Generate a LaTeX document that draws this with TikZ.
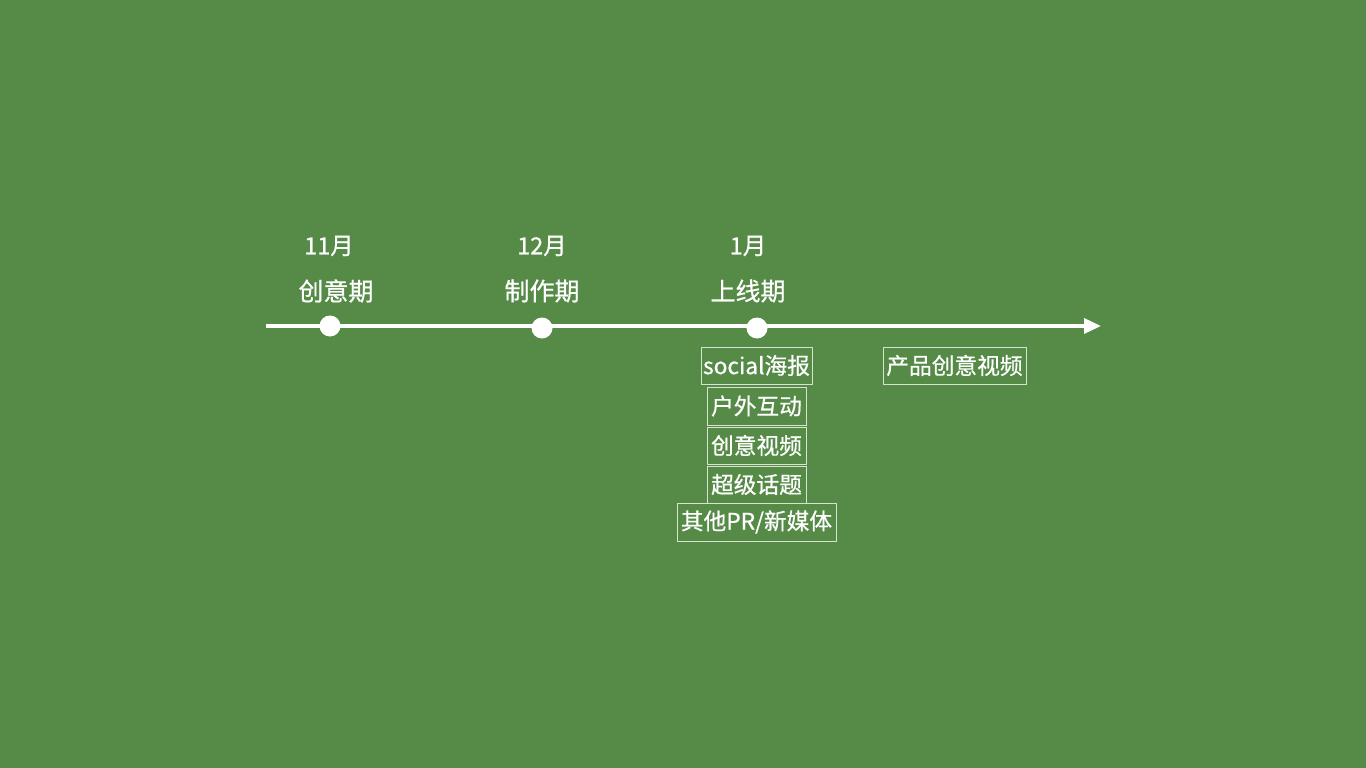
\documentclass[tikz,border=0pt]{standalone}
\usepackage{fontspec}
\setmainfont{Noto Sans CJK SC}
\newfontfamily\medfont{Noto Sans CJK SC}[FakeBold=0.6]
\usetikzlibrary{arrows.meta}
\definecolor{bg}{RGB}{85,139,70}
\definecolor{boxline}{RGB}{215,228,210}
\begin{document}
\begin{tikzpicture}[x=1pt,y=-1pt,
  dot/.style={circle,fill=white,minimum size=21pt,inner sep=0pt},
  month/.style={text=white,font=\medfont\fontsize{23.5}{26}\selectfont,inner sep=0pt},
  phase/.style={text=white,font=\medfont\fontsize{25}{28}\selectfont,inner sep=0pt},
  item/.style={draw=boxline,line width=0.8pt,text=white,font=\medfont\fontsize{22.7}{25}\selectfont,inner sep=0pt,minimum height=37pt},
  axis/.style={white,line width=3.5pt,-{Triangle[length=17pt,width=15pt]}}]
\fill[bg] (0,0) rectangle (1366,768);
\useasboundingbox (0,0) rectangle (1366,768);
\coordinate (start) at (266,326);
\coordinate (end) at (1101,326);
\draw[axis] (start) -- (end);
\node[dot] (d1) at (330,326) {};
\node[dot] (d2) at (542,328) {};
\node[dot] (d3) at (757,328) {};
\node[month] (m1) at (329,246) {11月};
\node[month] (m2) at (542,246) {12月};
\node[month] (m3) at (748,246) {1月};
\node[phase] (p1) at (336,291) {创意期};
\node[phase] (p2) at (542,291) {制作期};
\node[phase] (p3) at (748,291) {上线期};
\node[item,minimum width=111pt] (b1) at (756.5,365.5) {social海报};
\node[item,minimum width=99pt,minimum height=38pt] (b2) at (756.5,406) {户外互动};
\node[item,minimum width=99pt] (b3) at (756.5,445.5) {创意视频};
\node[item,minimum width=99pt] (b4) at (756.5,484.5) {超级话题};
\node[item,minimum width=159pt,minimum height=38pt] (b5) at (756.5,522) {其他PR/新媒体};
\node[item,minimum width=143pt] (b6) at (954.5,365.5) {产品创意视频};
\end{tikzpicture}
\end{document}
